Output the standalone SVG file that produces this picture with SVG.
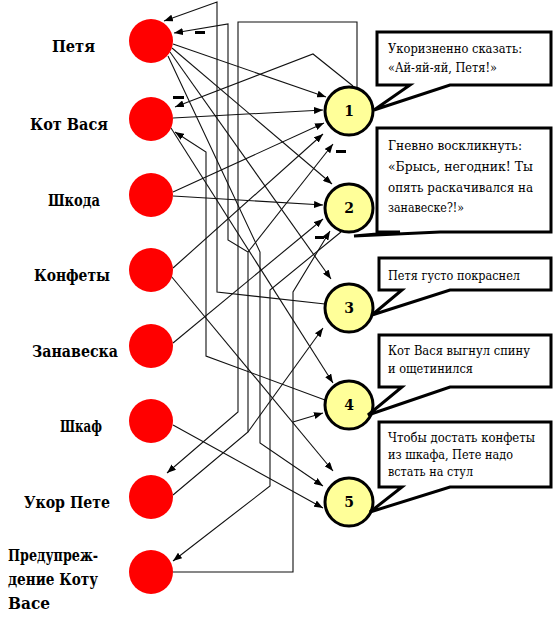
<svg xmlns="http://www.w3.org/2000/svg" width="554" height="617" viewBox="0 0 554 617">
<defs>
<marker id="ah" markerWidth="9" markerHeight="7" refX="9" refY="3.5" orient="auto" markerUnits="userSpaceOnUse">
<path d="M0,0 L9,3.5 L0,7 z" fill="#000"/>
</marker>
<style>
text{font-family:"DejaVu Serif",serif;fill:#000}
.lbl{font-weight:bold;font-size:16px}
.num{font-weight:bold;font-size:14px;text-anchor:middle}
.txt{font-size:13px}
.ent{fill:#FF0000}
.act{fill:#FFFF99;stroke:#000;stroke-width:3}
.call{fill:#fff;stroke:#000;stroke-width:3;stroke-linejoin:miter}
.c{fill:none;stroke:#111;stroke-width:1.1}
.a{marker-end:url(#ah)}
.neg{fill:#000}
</style>
</defs>
<rect width="554" height="617" fill="#fff"/>

<g id="connectors">
<path class="c a" d="M173,44 L326,97"/>
<path class="c a" d="M172,48 L332,184"/>
<path class="c a" d="M170,52 L331,279"/>
<path class="c a" d="M168,56 L260,252 L260,443 L323,486"/>
<path class="c a" d="M173,118 L323,110"/>
<path class="c a" d="M171,128 L333,383"/>
<path class="c a" d="M173,192 L324,123"/>
<path class="c a" d="M173,196 L323,205"/>
<path class="c a" d="M173,268 L323,134"/>
<path class="c a" d="M171,276 L333,471"/>
<path class="c a" d="M173,343 L323,219"/>
<path class="c a" d="M173,425 L323,508"/>
<path class="c a" d="M173,495 L248,432 L248,252 L228,240 L228,24 L174,33"/>
<path class="c a" d="M248,252 L333,144"/>
<path class="c a" d="M248,432 L323,328"/>
<path class="c a" d="M173,572 L293,572 L293,292 L330,231"/>
<path class="c a" d="M293,422 L323,413"/>
<path class="c a" d="M357,87 L357,22 L238,22 L238,412 L167,473"/>
<path class="c a" d="M353,86 L313,54 L175,107"/>
<path class="c a" d="M341,232 L270,290 L270,486 L173,561"/>
<path class="c a" d="M325,304 L217,292 L217,2 L164,21"/>
<path class="c a" d="M325,400 L206,356 L206,152 L175,132"/>
<rect class="neg" x="195" y="31" width="10" height="3"/>
<rect class="neg" x="173" y="96" width="11" height="3"/>
<rect class="neg" x="336" y="150" width="10" height="3"/>
<rect class="neg" x="315" y="236" width="9" height="3"/>
</g>

<g id="petya"><circle class="ent" cx="151" cy="41" r="22"/><text class="lbl" x="52" y="52" textLength="43" lengthAdjust="spacingAndGlyphs">Петя</text></g>
<g id="kot-vasya"><circle class="ent" cx="151" cy="119" r="22"/><text class="lbl" x="30" y="130" textLength="78" lengthAdjust="spacingAndGlyphs">Кот Вася</text></g>
<g id="shkoda"><circle class="ent" cx="151" cy="195" r="22"/><text class="lbl" x="48" y="206" textLength="52" lengthAdjust="spacingAndGlyphs">Шкода</text></g>
<g id="konfety"><circle class="ent" cx="151" cy="270" r="22"/><text class="lbl" x="34" y="281" textLength="76" lengthAdjust="spacingAndGlyphs">Конфеты</text></g>
<g id="zanaveska"><circle class="ent" cx="151" cy="346" r="22"/><text class="lbl" x="32" y="357" textLength="86" lengthAdjust="spacingAndGlyphs">Занавеска</text></g>
<g id="shkaf"><circle class="ent" cx="151" cy="421" r="22"/><text class="lbl" x="60" y="432" textLength="42" lengthAdjust="spacingAndGlyphs">Шкаф</text></g>
<g id="ukor"><circle class="ent" cx="151" cy="497" r="22"/><text class="lbl" x="24" y="508" textLength="86" lengthAdjust="spacingAndGlyphs">Укор Пете</text></g>
<g id="preduprezhdenie"><circle class="ent" cx="151" cy="572" r="22"/><text class="lbl" x="8" y="561" textLength="90" lengthAdjust="spacingAndGlyphs">Предупреж-</text><text class="lbl" x="8" y="585" textLength="90" lengthAdjust="spacingAndGlyphs">дение Коту</text><text class="lbl" x="8" y="609" textLength="42" lengthAdjust="spacingAndGlyphs">Васе</text></g>

<g id="action1"><circle class="act" cx="349" cy="111" r="24"/><text class="num" x="349" y="116">1</text></g>
<g id="action2"><circle class="act" cx="349" cy="208" r="24"/><text class="num" x="349" y="213">2</text></g>
<g id="action3"><circle class="act" cx="349" cy="308" r="24"/><text class="num" x="349" y="313">3</text></g>
<g id="action4"><circle class="act" cx="349" cy="405" r="24"/><text class="num" x="349" y="410">4</text></g>
<g id="action5"><circle class="act" cx="349" cy="502" r="24"/><text class="num" x="349" y="507">5</text></g>

<g id="callout1"><path class="call" d="M377,32 H551 V85 H450 L374,110 L410,85 H377 Z"/><text class="txt" x="388" y="53" textLength="134" lengthAdjust="spacingAndGlyphs">Укоризненно сказать:</text><text class="txt" x="388" y="72" textLength="109" lengthAdjust="spacingAndGlyphs">«Ай-яй-яй, Петя!»</text></g>
<g id="callout2"><path class="call" d="M377,128 H551 V232 H440 L354,236 L400,232 H377 Z"/><text class="txt" x="388" y="150" textLength="134" lengthAdjust="spacingAndGlyphs">Гневно воскликнуть:</text><text class="txt" x="388" y="171" textLength="145" lengthAdjust="spacingAndGlyphs">«Брысь, негодник! Ты</text><text class="txt" x="388" y="192" textLength="145" lengthAdjust="spacingAndGlyphs">опять раскачивался на</text><text class="txt" x="388" y="212" textLength="76" lengthAdjust="spacingAndGlyphs">занавеске?!»</text></g>
<g id="callout3"><path class="call" d="M379,258 H551 V290 H450 L372,315 L402,290 H379 Z"/><text class="txt" x="388" y="280" textLength="132" lengthAdjust="spacingAndGlyphs">Петя густо покраснел</text></g>
<g id="callout4"><path class="call" d="M379,335 H551 V387 H450 L368,415 L402,387 H379 Z"/><text class="txt" x="388" y="355" textLength="142" lengthAdjust="spacingAndGlyphs">Кот Вася выгнул спину</text><text class="txt" x="388" y="373" textLength="85" lengthAdjust="spacingAndGlyphs">и ощетинился</text></g>
<g id="callout5"><path class="call" d="M379,422 H551 V487 H450 L370,512 L402,487 H379 Z"/><text class="txt" x="388" y="442" textLength="147" lengthAdjust="spacingAndGlyphs">Чтобы достать конфеты</text><text class="txt" x="388" y="459" textLength="125" lengthAdjust="spacingAndGlyphs">из шкафа, Пете надо</text><text class="txt" x="388" y="476" textLength="85" lengthAdjust="spacingAndGlyphs">встать на стул</text></g>
</svg>
